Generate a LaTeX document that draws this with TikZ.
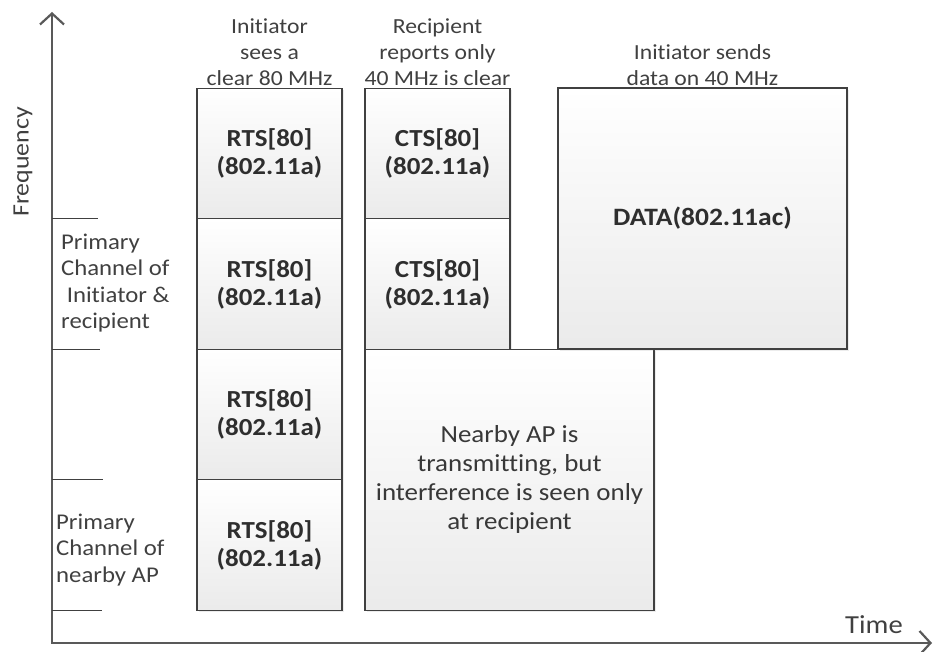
\documentclass[tikz,border=0pt]{standalone}
\usepackage{fontspec}
\setmainfont{Carlito}[Ligatures=NoCommon, FakeStretch=1.1]
\usetikzlibrary{arrows.meta,positioning,shadows}

\tikzset{
	slot/.style={draw=black!75, line width=1.1pt, top color=white, bottom color=black!8,
		drop shadow={opacity=0.15, shadow xshift=2pt, shadow yshift=-2pt},
		minimum width=145pt, minimum height=130.5pt, inner sep=0pt, outer sep=0pt,
		align=center, font=\fontsize{24.5}{28}\selectfont\bfseries, text=black!82},
	wide/.style={slot, minimum width=289pt, minimum height=261pt},
	note/.style={align=center, inner sep=1pt, font=\fontsize{21.5}{26}\selectfont, text=black!75},
	side/.style={note, align=left, font=\fontsize{22.5}{26.3}\selectfont},
	axis/.style={draw=black!65, line width=2.6pt},
	tick/.style={draw=black!75, line width=1.1pt}
}

\begin{document}
\begin{tikzpicture}[x=1pt, y=-1pt, >={Straight Barb[length=11pt, width=24pt, line width=2.2pt]}]
	\useasboundingbox (0,0) rectangle (935,652);

	% axes
	\coordinate (fTop) at (52,12);
	\coordinate (tEnd) at (932,643);
	\draw[axis, <->] (fTop) |- (tEnd);
	\node[note, rotate=90, font=\fontsize{23.5}{28}\selectfont] (freq) at (23,162) {Frequency};
	\node[note, font=\fontsize{26}{30}\selectfont] (time) at (874,625) {Time};

	% RTS column, one slot per 20 MHz channel
	\node[slot] (rts1) at (269.5,153.5) {RTS[80]\\(802.11a)};
	\node[slot, below=0pt of rts1] (rts2) {RTS[80]\\(802.11a)};
	\node[slot, below=0pt of rts2] (rts3) {RTS[80]\\(802.11a)};
	\node[slot, below=0pt of rts3] (rts4) {RTS[80]\\(802.11a)};

	% CTS only on the two clear channels
	\node[slot, right=23pt of rts1] (cts1) {CTS[80]\\(802.11a)};
	\node[slot, below=0pt of cts1] (cts2) {CTS[80]\\(802.11a)};
	\node[wide, anchor=north west, font=\fontsize{24.5}{29}\selectfont, text=black!78] (ap) at (cts2.south west)
		{Nearby AP is\\transmitting, but\\interference is seen only\\at recipient};
	\node[wide, anchor=north west, font=\fontsize{25}{29}\selectfont\bfseries] (data) at (558,88) {DATA(802.11ac)};

	% headings
	\node[note, above=1pt of rts1] (initLbl) {Initiator\\sees a\\clear 80 MHz};
	\node[note, above=1pt of cts1] (recLbl) {Recipient\\reports only\\40 MHz is clear};
	\node[note, above=1pt of data] (sendLbl) {Initiator sends\\data on 40 MHz};

	% channel marks on the frequency axis
	\draw[tick] (fTop |- rts1.south) -- ++(46,0);
	\draw[tick] (fTop |- rts2.south) -- ++(48,0);
	\draw[tick] (fTop |- rts3.south) -- ++(51,0);
	\draw[tick] (fTop |- rts4.south) -- ++(50,0);
	\node[side, anchor=west] (primInit) at (60,283) {Primary\\Channel of\\\ Initiator \&\\recipient};
	\node[side, anchor=west] (primAP) at (55,550) {Primary\\Channel of\\nearby AP};
\end{tikzpicture}
\end{document}
